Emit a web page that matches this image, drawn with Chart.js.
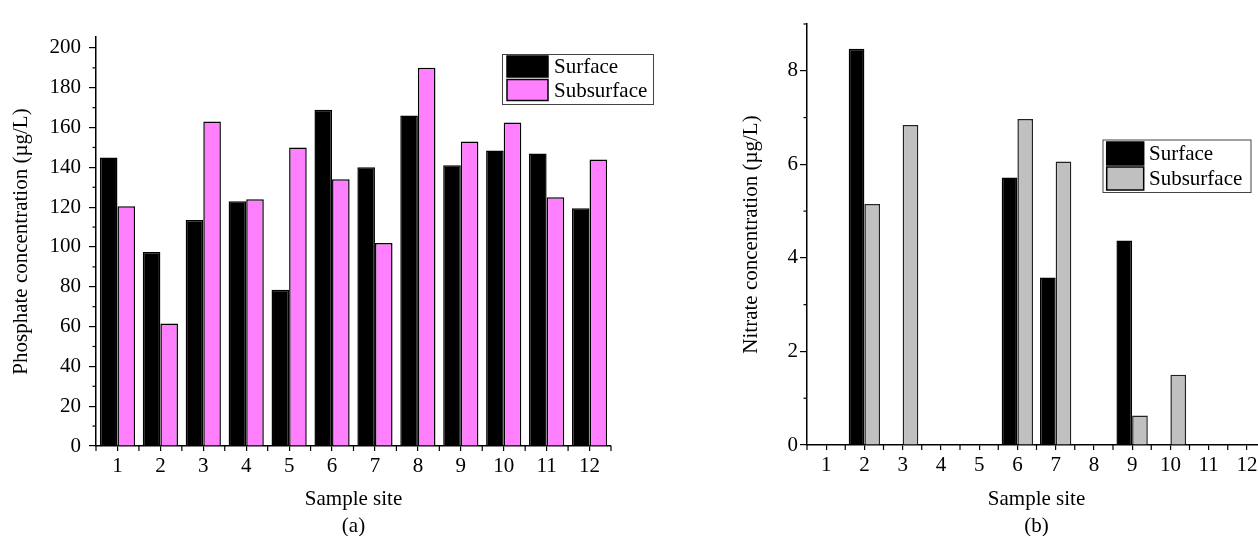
<!DOCTYPE html>
<html><head><meta charset="utf-8">
<script src="https://cdn.jsdelivr.net/npm/chart.js@4/dist/chart.umd.min.js"></script>
<style>
html,body{margin:0;padding:0;background:#fff;overflow:hidden;width:1258px;height:536px;position:relative;}
#wa{position:absolute;left:0;top:0;width:700px;height:536px;}
#wb{position:absolute;left:730px;top:0;width:540px;height:536px;}
</style></head><body>
<div id="wa"><canvas id="ca"></canvas></div>
<div id="wb"><canvas id="cb"></canvas></div>
<script>
const sites = ['1','2','3','4','5','6','7','8','9','10','11','12'];
const seriesNames = ['Surface', 'Subsurface'];
const phosphateSurface    = [145, 97.5, 113.5, 123, 78.5, 169, 140, 166, 141, 148.5, 147, 119.5];
const phosphateSubsurface = [120.5, 61.5, 163, 124, 150, 134, 102, 190, 153, 162.5, 125, 144];
const nitrateSurface      = [0, 8.47, 0, 0, 0, 5.72, 3.58, 0, 4.37, 0, 0, 0];
const nitrateSubsurface   = [0, 5.15, 6.84, 0, 0, 6.97, 6.06, 0, 0.63, 1.5, 0, 0];
const phosphateMajorTicks = [0, 20, 40, 60, 80, 100, 120, 140, 160, 180, 200];
const phosphateMinorTicks = [10, 30, 50, 70, 90, 110, 130, 150, 170, 190];
const nitrateMajorTicks = [0, 2, 4, 6, 8];
const nitrateMinorTicks = [1, 3, 5, 7, 9];

const FONT = '"Liberation Serif", "Times New Roman", serif';

const extraTicks = {
  id: 'extraTicks',
  afterDraw(chart, args, o) {
    const ctx = chart.ctx, xs = chart.scales.x, ys = chart.scales.y;
    ctx.save();
    ctx.strokeStyle = '#000';
    ctx.lineWidth = 1.2;
    o.minor.forEach(v => {
      const py = ys.getPixelForValue(v);
      ctx.beginPath(); ctx.moveTo(ys.right - o.minorLen, py); ctx.lineTo(ys.right, py); ctx.stroke();
    });
    for (let i = 0; i <= xs.ticks.length; i++) {
      const px = xs.getPixelForValue(i - 0.5);
      ctx.beginPath(); ctx.moveTo(px, xs.top); ctx.lineTo(px, xs.top + o.xLen); ctx.stroke();
    }
    ctx.restore();
  }
};

const boxLegend = {
  id: 'boxLegend',
  afterDraw(chart, args, o) {
    const ctx = chart.ctx;
    ctx.save();
    ctx.fillStyle = '#fff';
    ctx.fillRect(o.x, o.y, o.w, o.h);
    ctx.strokeStyle = '#444'; ctx.lineWidth = 1;
    ctx.strokeRect(o.x + 0.5, o.y + 0.5, o.w, o.h);
    chart.data.datasets.forEach((ds, i) => {
      const sy = o.rows[i];
      ctx.fillStyle = ds.backgroundColor;
      ctx.fillRect(o.sx, sy, o.sw, o.sh);
      ctx.strokeStyle = '#000'; ctx.lineWidth = 1.5;
      ctx.strokeRect(o.sx, sy, o.sw, o.sh);
      ctx.fillStyle = '#000';
      ctx.font = '21px ' + FONT;
      ctx.textBaseline = 'middle';
      ctx.textAlign = 'left';
      ctx.fillText(ds.label, o.tx, sy + o.sh / 2 + 1);
    });
    ctx.restore();
  }
};

function makeChart(id, cfg) {
  return new Chart(document.getElementById(id), {
    type: 'bar',
    data: {
      labels: sites,
      datasets: [
        { label: seriesNames[0], data: cfg.s1, backgroundColor: '#000000', borderColor: '#000000', borderWidth: 1.5 },
        { label: seriesNames[1], data: cfg.s2, backgroundColor: cfg.c2, borderColor: cfg.b2, borderWidth: 1.5 }
      ]
    },
    options: {
      responsive: true,
      maintainAspectRatio: false,
      devicePixelRatio: 1,
      animation: false,
      datasets: { bar: { categoryPercentage: 0.82, barPercentage: 1.0 } },
      layout: { padding: cfg.pad },
      plugins: {
        legend: { display: false },
        tooltip: { enabled: false },
        extraTicks: { minor: cfg.minor, minorLen: 3.5, xLen: 5 },
        boxLegend: cfg.legend
      },
      scales: {
        x: {
          grid: { display: true, drawOnChartArea: false, drawTicks: true, tickLength: 5, offset: false, color: '#000', lineWidth: 1.2 },
          border: { display: true, color: '#000', width: 1.5 },
          ticks: { color: '#000', font: { family: FONT, size: 21 }, padding: 3, maxRotation: 0, autoSkip: false },
          title: { display: true, text: ['Sample site', cfg.tag], color: '#000',
                   font: { family: FONT, size: 21, lineHeight: 1.3 }, padding: { top: 0, bottom: -4.5 } },
          afterFit: s => { s.height = cfg.xh; }
        },
        y: {
          min: 0, max: cfg.max,
          grid: { display: true, drawOnChartArea: false, drawTicks: true, tickLength: 7, color: '#000', lineWidth: 1.2 },
          border: { display: true, color: '#000', width: 1.5 },
          afterBuildTicks: s => { s.ticks = cfg.major.map(v => ({ value: v })); },
          ticks: { color: '#000', font: { family: FONT, size: 21 }, padding: cfg.tpad },
          title: { display: true, text: cfg.ytitle, color: '#000',
                   font: { family: FONT, size: 21 }, padding: { top: 9, bottom: 0 } },
          afterFit: s => { s.width = cfg.yw; }
        }
      }
    },
    plugins: [extraTicks, boxLegend]
  });
}

makeChart('ca', {
  s1: phosphateSurface, s2: phosphateSubsurface, c2: '#ff80ff', b2: '#000000',
  tag: '(a)', max: 205.5, major: phosphateMajorTicks, minor: phosphateMinorTicks,
  ytitle: 'Phosphate concentration (µg/L)', yw: 96, xh: 90, tpad: 8,
  pad: { left: 0, right: 89, top: 37, bottom: 0 },
  legend: { x: 502, y: 54, w: 151, h: 50, sx: 507, sw: 41, sh: 21, rows: [56, 79.5], tx: 554 }
});

makeChart('cb', {
  s1: nitrateSurface, s2: nitrateSubsurface, c2: '#c0c0c0', b2: '#222222',
  tag: '(b)', max: 9, major: nitrateMajorTicks, minor: nitrateMinorTicks,
  ytitle: 'Nitrate concentration (µg/L)', yw: 77, xh: 91, tpad: 2,
  pad: { left: 0, right: 4, top: 24, bottom: 0 },
  legend: { x: 372.5, y: 139.5, w: 148, h: 52.5, sx: 376.7, sw: 37, sh: 23, rows: [142, 167], tx: 419 }
});
</script>
</body></html>
